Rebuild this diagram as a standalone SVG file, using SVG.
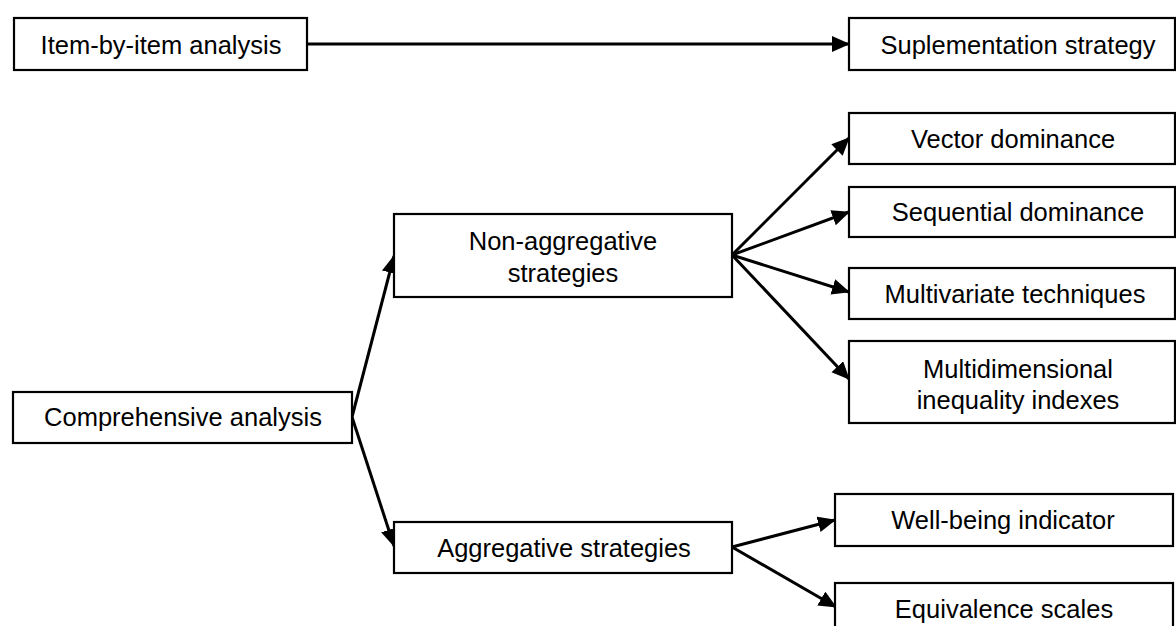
<svg xmlns="http://www.w3.org/2000/svg" width="1176" height="626" viewBox="0 0 1176 626">
<defs>
<marker id="ah" markerUnits="userSpaceOnUse" markerWidth="20" markerHeight="18" refX="17" refY="8" orient="auto">
<path d="M0,0 L18,8 L0,16 z" fill="#000"/>
</marker>
<style>
.box{fill:#fff;stroke:#000;stroke-width:2.2}
.lbl{font-family:"Liberation Sans",Arial,sans-serif;font-size:25.5px;fill:#000;text-anchor:middle}
.con line{stroke:#000;stroke-width:3;marker-end:url(#ah)}
</style>
</defs>
<rect width="1176" height="626" fill="#fff"/>
<g id="connectors" class="con">
<line x1="307" y1="44" x2="849" y2="44"/>
<line x1="352" y1="417" x2="394" y2="256"/>
<line x1="352" y1="417" x2="394" y2="546"/>
<line x1="732" y1="255" x2="849" y2="138"/>
<line x1="732" y1="255" x2="849" y2="212"/>
<line x1="732" y1="255" x2="849" y2="292"/>
<line x1="732" y1="255" x2="849" y2="379"/>
<line x1="732" y1="547" x2="835" y2="520"/>
<line x1="732" y1="547" x2="836" y2="607"/>
</g>
<g id="item-by-item">
<rect class="box" x="14" y="18" width="293" height="52"/>
<text class="lbl" x="161" y="54">Item-by-item analysis</text>
</g>
<g id="suplementation">
<rect class="box" x="849" y="18" width="326" height="52"/>
<text class="lbl" x="1018" y="54">Suplementation strategy</text>
</g>
<g id="comprehensive">
<rect class="box" x="13" y="392" width="339" height="51"/>
<text class="lbl" x="183" y="426">Comprehensive analysis</text>
</g>
<g id="non-aggregative">
<rect class="box" x="394" y="214" width="338" height="83"/>
<text class="lbl" x="563" y="250">Non-aggregative</text>
<text class="lbl" x="563" y="282">strategies</text>
</g>
<g id="aggregative">
<rect class="box" x="394" y="522" width="338" height="51"/>
<text class="lbl" x="564" y="557">Aggregative strategies</text>
</g>
<g id="vector-dominance">
<rect class="box" x="849" y="113" width="326" height="51"/>
<text class="lbl" x="1013" y="148">Vector dominance</text>
</g>
<g id="sequential-dominance">
<rect class="box" x="849" y="187" width="326" height="50"/>
<text class="lbl" x="1018" y="221">Sequential dominance</text>
</g>
<g id="multivariate">
<rect class="box" x="849" y="268" width="326" height="51"/>
<text class="lbl" x="1015" y="303">Multivariate techniques</text>
</g>
<g id="multidimensional">
<rect class="box" x="849" y="341" width="326" height="82"/>
<text class="lbl" x="1018" y="378">Multidimensional</text>
<text class="lbl" x="1018" y="409">inequality indexes</text>
</g>
<g id="well-being">
<rect class="box" x="835" y="494" width="338" height="52"/>
<text class="lbl" x="1003" y="529">Well-being indicator</text>
</g>
<g id="equivalence">
<rect class="box" x="835" y="583" width="338" height="52"/>
<text class="lbl" x="1004" y="618">Equivalence scales</text>
</g>
</svg>
